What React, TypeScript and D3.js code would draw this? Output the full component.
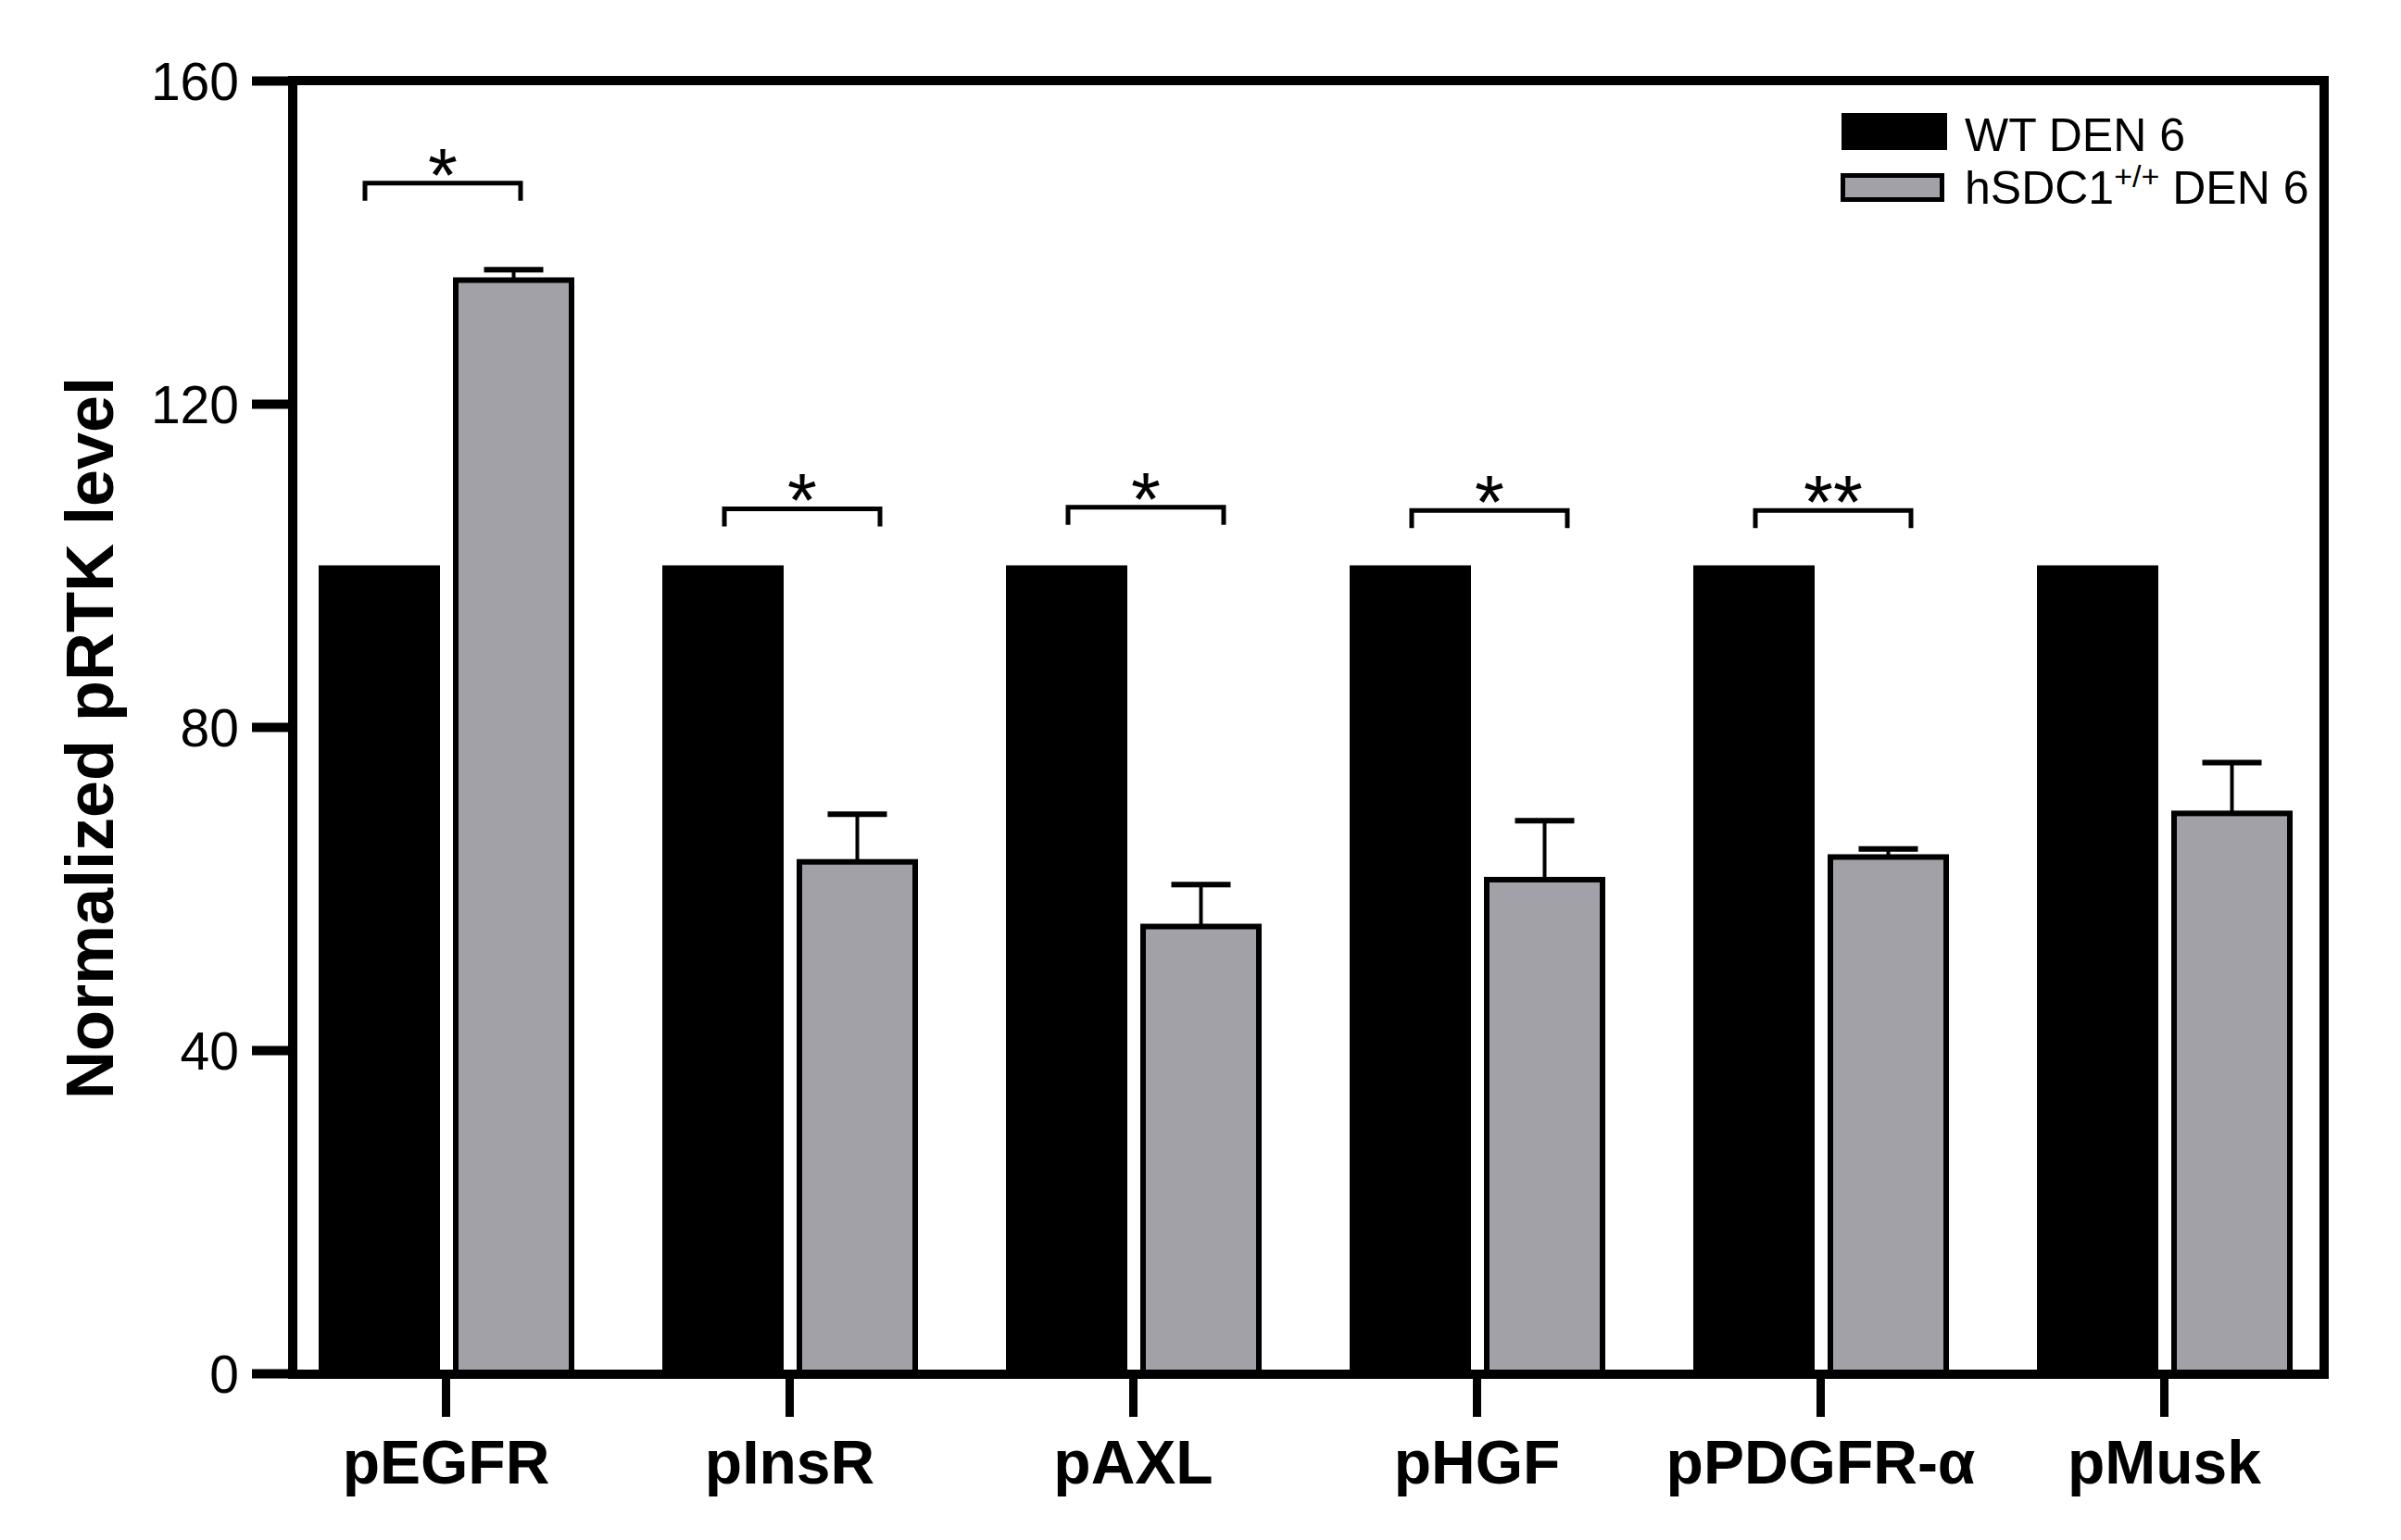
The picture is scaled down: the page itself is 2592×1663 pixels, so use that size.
import React, { useEffect, useRef } from "react";
import * as d3 from "d3";

// values
const categories = ["pEGFR", "pInsR", "pAXL", "pHGF", "pPDGFR-α", "pMusk"];
const seriesNames = ["WT DEN 6", "hSDC1 DEN 6"];
const wtValues = [100, 100, 100, 100, 100, 100];
const hsdcValues = [135.3, 63.3, 55.3, 61.1, 63.9, 69.3];
const hsdcErrors = [1.3, 5.9, 5.2, 7.3, 1.0, 6.3];
const sigLabels = ["*", "*", "*", "*", "**", ""];
const sigLevels = [147.3, 107, 107.2, 106.8, 106.8, null];
const yTicks = [0, 40, 80, 120, 160];

const FONT = "'Liberation Sans', Arial, Helvetica, sans-serif";
const GREY = "#a3a1a8";

const App: React.FC = () => {
  const ref = useRef<SVGSVGElement | null>(null);

  useEffect(() => {
    if (!ref.current) return;
    const width = 2592,
      height = 1663;
    const svg = d3.select(ref.current).attr("width", width).attr("height", height);
    svg.selectAll("*").remove();

    const left = 316,
      right = 2509,
      top = 87,
      bottom = 1483;

    const y = d3.scaleLinear().domain([0, 160]).range([bottom, top]);
    const x = d3.scalePoint<string>().domain(categories).range([481, 2336]);
    const xSub = d3
      .scaleBand<string>()
      .domain(seriesNames)
      .range([-137, 139])
      .paddingInner(0.0966);

    const g = svg.append("g");

    // black bars
    g.selectAll("rect.wt")
      .data(wtValues)
      .join("rect")
      .attr("class", "wt")
      .attr("x", (_, i) => x(categories[i])! + xSub(seriesNames[0])!)
      .attr("width", xSub.bandwidth())
      .attr("y", (d) => y(d))
      .attr("height", (d) => y(0) - y(d))
      .attr("fill", "#000");

    // grey bars with outline
    const sw = 6;
    g.selectAll("rect.hs")
      .data(hsdcValues)
      .join("rect")
      .attr("class", "hs")
      .attr("x", (_, i) => x(categories[i])! + xSub(seriesNames[1])! + sw / 2)
      .attr("width", xSub.bandwidth() - sw)
      .attr("y", (d) => y(d))
      .attr("height", (d) => y(0) - y(d))
      .attr("fill", GREY)
      .attr("stroke", "#000")
      .attr("stroke-width", sw);

    // error bars (upper only)
    hsdcValues.forEach((v, i) => {
      const cx = x(categories[i])! + xSub(seriesNames[1])! + xSub.bandwidth() / 2;
      const yt = y(v + hsdcErrors[i]);
      g.append("line")
        .attr("x1", cx)
        .attr("x2", cx)
        .attr("y1", y(v))
        .attr("y2", yt)
        .attr("stroke", "#000")
        .attr("stroke-width", 4);
      g.append("line")
        .attr("x1", cx - 32)
        .attr("x2", cx + 32)
        .attr("y1", yt)
        .attr("y2", yt)
        .attr("stroke", "#000")
        .attr("stroke-width", 6);
    });

    // significance brackets
    sigLevels.forEach((lvl, i) => {
      if (lvl == null) return;
      const c = x(categories[i])! + (i === 0 ? -3 : 14);
      const yb = y(lvl);
      g.append("path")
        .attr("d", `M${c - 84},${yb + 19}V${yb}H${c + 84}V${yb + 19}`)
        .attr("fill", "none")
        .attr("stroke", "#000")
        .attr("stroke-width", 5);
      g.append("text")
        .attr("x", c)
        .attr("y", yb + 19)
        .attr("text-anchor", "middle")
        .style("font-family", FONT)
        .style("font-size", "82px")
        .text(sigLabels[i]);
    });

    // frame (top and right)
    svg.append("path")
      .attr("d", `M${left},${top}H${right}V${bottom + 1}`)
      .attr("fill", "none")
      .attr("stroke", "#000")
      .attr("stroke-width", 10);

    // x baseline
    svg.append("line")
      .attr("x1", left - 5)
      .attr("x2", right + 5)
      .attr("y1", bottom + 1)
      .attr("y2", bottom + 1)
      .attr("stroke", "#000")
      .attr("stroke-width", 10);

    // y axis
    const yAxis = svg
      .append("g")
      .attr("transform", `translate(${left},0)`)
      .call(
        d3.axisLeft(y).tickValues(yTicks).tickSize(44).tickSizeOuter(0).tickPadding(14)
      );
    yAxis.select(".domain").attr("stroke-width", 10).attr("d", `M0,${bottom + 6}V${top - 5}`);
    yAxis.selectAll(".tick line").attr("stroke-width", 10);
    yAxis
      .selectAll(".tick text")
      .attr("dy", "0.36em")
      .style("font-family", FONT)
      .style("font-size", "57px")
      .attr("fill", "#000");

    // x axis
    const xAxis = svg
      .append("g")
      .attr("transform", `translate(0,${bottom + 1})`)
      .call(d3.axisBottom(x).tickSize(46).tickSizeOuter(0).tickPadding(25));
    xAxis.select(".domain").remove();
    xAxis.selectAll(".tick line").attr("stroke-width", 9);
    xAxis
      .selectAll(".tick text")
      .style("font-family", FONT)
      .style("font-size", "66px")
      .style("font-weight", "bold")
      .attr("fill", "#000");

    // y title
    svg.append("text")
      .attr("transform", "translate(122,797) rotate(-90)")
      .attr("text-anchor", "middle")
      .style("font-family", FONT)
      .style("font-size", "72px")
      .style("font-weight", "bold")
      .text("Normalized pRTK level");

    // legend
    const lg = svg.append("g");
    lg.append("rect")
      .attr("x", 1988)
      .attr("y", 122)
      .attr("width", 114)
      .attr("height", 40)
      .attr("fill", "#000");
    lg.append("rect")
      .attr("x", 1989.5)
      .attr("y", 189.5)
      .attr("width", 107)
      .attr("height", 26)
      .attr("fill", GREY)
      .attr("stroke", "#000")
      .attr("stroke-width", 5);
    lg.append("text")
      .attr("x", 2121)
      .attr("y", 163)
      .style("font-family", FONT)
      .style("font-size", "50px")
      .text("WT DEN 6");
    const t2 = lg
      .append("text")
      .attr("x", 2121)
      .attr("y", 220)
      .style("font-family", FONT)
      .style("font-size", "50px");
    t2.append("tspan").text("hSDC1");
    t2.append("tspan").attr("dy", -18).style("font-size", "34px").text("+/+");
    t2.append("tspan").attr("dy", 18).text(" DEN 6");
  }, []);

  return (
    <svg
      ref={ref}
      style={{ position: "absolute", left: 0, top: 0, background: "#fff" }}
    />
  );
};

export default App;
